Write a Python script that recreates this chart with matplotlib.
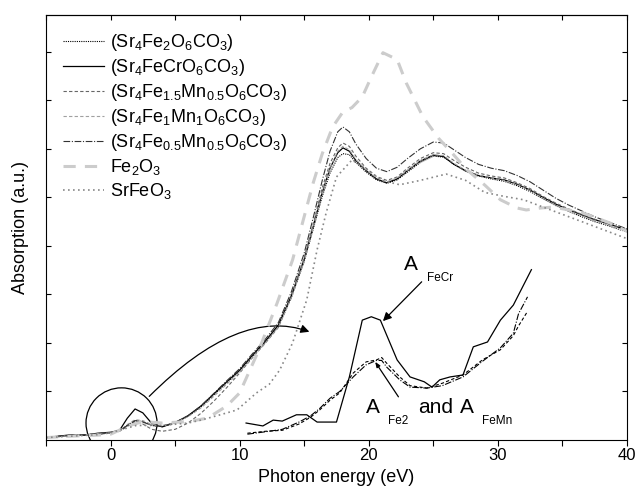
import matplotlib
matplotlib.use("Agg")
import matplotlib.pyplot as plt
from matplotlib.patches import Ellipse, FancyArrowPatch

plt.rcParams['font.family'] = ['Liberation Sans', 'DejaVu Sans']
plt.rcParams['mathtext.fontset'] = 'custom'
plt.rcParams['mathtext.rm'] = 'Liberation Sans'
plt.rcParams['mathtext.it'] = 'Liberation Sans'

# energy grid shared by the Sr4 carbonate spectra (eV)
x_main = [-5, -4, -3, -2, -1, 0, 0.7, 1.3, 1.9, 2.5, 3.2, 4, 5, 6, 7, 8, 9, 10, 11, 12,
          13, 14, 15, 15.7, 16.4, 17, 17.6, 18, 18.5, 19, 19.8, 20.6, 21.4, 22.2, 23, 24,
          25, 25.8, 26.6, 27.5, 28.5, 29.5, 30.5, 31.5, 32.5, 33.5, 34.5, 35.5, 36.5, 37.5,
          38.5, 39.5, 40]

fe2 = [0.05, 0.07, 0.1, 0.1, 0.13, 0.15, 0.19, 0.3, 0.4, 0.38, 0.3, 0.28, 0.35, 0.49, 0.68,
       0.93, 1.18, 1.42, 1.72, 2.02, 2.35, 2.93, 3.68, 4.35, 5.02, 5.5, 5.82, 5.9, 5.88, 5.72,
       5.52, 5.36, 5.29, 5.36, 5.52, 5.72, 5.85, 5.83, 5.68, 5.54, 5.44, 5.38, 5.33, 5.24,
       5.12, 4.97, 4.83, 4.71, 4.6, 4.5, 4.42, 4.33, 4.29]
fecr = [0.05, 0.08, 0.11, 0.1, 0.14, 0.16, 0.2, 0.45, 0.64, 0.56, 0.34, 0.27, 0.36, 0.5, 0.7,
        0.95, 1.2, 1.44, 1.75, 2.04, 2.37, 2.97, 3.72, 4.4, 5.1, 5.6, 5.92, 6.02, 5.95, 5.76,
        5.55, 5.38, 5.3, 5.38, 5.55, 5.75, 5.87, 5.84, 5.68, 5.55, 5.45, 5.4, 5.36, 5.27,
        5.15, 5.0, 4.86, 4.74, 4.64, 4.54, 4.46, 4.37, 4.33]
fe15mn05 = [0.04, 0.07, 0.09, 0.1, 0.12, 0.14, 0.18, 0.28, 0.38, 0.33, 0.22, 0.18, 0.22, 0.35,
            0.55, 0.8, 1.08, 1.38, 1.7, 2.0, 2.32, 2.95, 3.75, 4.45, 5.2, 5.7, 6.02, 6.12, 6.05,
            5.85, 5.6, 5.43, 5.35, 5.42, 5.6, 5.8, 5.92, 5.9, 5.76, 5.62, 5.5, 5.44, 5.4, 5.3,
            5.18, 5.02, 4.88, 4.76, 4.65, 4.55, 4.46, 4.37, 4.32]
fe1mn1 = [0.05, 0.07, 0.1, 0.11, 0.13, 0.15, 0.19, 0.32, 0.42, 0.4, 0.32, 0.3, 0.36, 0.48, 0.66,
          0.9, 1.15, 1.4, 1.7, 2.0, 2.33, 2.92, 3.68, 4.38, 5.08, 5.6, 5.95, 6.05, 5.98, 5.78,
          5.56, 5.4, 5.32, 5.4, 5.56, 5.76, 5.88, 5.86, 5.7, 5.56, 5.46, 5.4, 5.35, 5.26, 5.14,
          4.98, 4.84, 4.72, 4.62, 4.52, 4.43, 4.35, 4.3]
fe05mn05 = [0.05, 0.08, 0.1, 0.11, 0.13, 0.15, 0.19, 0.3, 0.4, 0.37, 0.3, 0.28, 0.36, 0.5, 0.7,
            0.96, 1.22, 1.47, 1.78, 2.08, 2.42, 3.05, 3.85, 4.58, 5.35, 5.95, 6.35, 6.45, 6.35,
            6.1, 5.8, 5.6, 5.53, 5.62, 5.8, 6.0, 6.14, 6.12, 5.98, 5.82, 5.68, 5.6, 5.55, 5.45,
            5.32, 5.15, 4.98, 4.84, 4.72, 4.6, 4.5, 4.4, 4.35]

# reference oxides
x_fe2o3 = [-5, -3, -1, 0, 1.5, 2.5, 4, 6, 7.5, 9, 10, 11.5, 12.9, 14.1, 15.7, 16.4, 17.2, 18,
           18.7, 19.5, 20.2, 21.1, 22.2, 22.9, 24.2, 25.4, 26.5, 27.6, 29, 30.2, 31.5, 32.2,
           33.3, 34.3, 35.5, 36.6, 38.7, 40]
fe2o3 = [0.05, 0.08, 0.1, 0.12, 0.3, 0.38, 0.35, 0.38, 0.45, 0.7, 0.97, 1.86, 2.82, 3.71, 5.3,
         5.9, 6.45, 6.76, 6.85, 7.07, 7.48, 7.98, 7.84, 7.36, 6.66, 6.22, 5.9, 5.57, 5.25, 4.95,
         4.78, 4.74, 4.78, 4.8, 4.74, 4.68, 4.47, 4.3]
x_srfeo3 = [-5, -3, -1, 0, 2, 4, 6, 7, 8.5, 9.8, 11.3, 12.3, 13.1, 14.1, 15.2, 16.0, 16.7, 17.5,
            18.7, 20, 21, 22.4, 24, 26, 27.5, 29, 30.5, 32, 34, 36, 38, 40]
srfeo3 = [0.05, 0.08, 0.11, 0.15, 0.3, 0.3, 0.35, 0.41, 0.52, 0.62, 0.97, 1.15, 1.44, 2.0, 2.89,
          3.92, 4.68, 5.42, 5.77, 5.55, 5.35, 5.26, 5.35, 5.48, 5.35, 5.1, 5.02, 4.95, 4.75,
          4.55, 4.35, 4.15]

# magnified pre-edge region
x_zoom_cr = [10.5, 11.8, 12.6, 13.3, 14.4, 15.2, 16.0, 17.5, 18.5, 19.5, 20.2, 20.9, 22.2,
             23.2, 24.3, 24.9, 25.5, 26.3, 27.3, 28.1, 29.2, 30.2, 31.2, 32.6]
zoom_cr = [0.35, 0.29, 0.41, 0.39, 0.52, 0.52, 0.37, 0.37, 1.3, 2.47, 2.54, 2.47, 1.65, 1.3,
           1.2, 1.09, 1.24, 1.3, 1.34, 1.92, 2.02, 2.47, 2.78, 3.51]
x_zoom = [10.6, 12, 13.3, 14.6, 15.5, 16.2, 17.0, 17.75, 18.8, 19.8, 20.6, 21.0, 21.4, 22.4,
          23.2, 24.5, 25.7, 27.3, 28.8, 30.2, 31.2, 31.6, 32.3]
zoom_fe2 = [0.14, 0.18, 0.2, 0.33, 0.47, 0.62, 0.82, 0.97, 1.38, 1.61, 1.65, 1.7, 1.58, 1.3,
            1.12, 1.07, 1.17, 1.34, 1.65, 1.86, 2.15, 2.35, 2.65]
zoom_femn = [0.12, 0.17, 0.22, 0.37, 0.5, 0.65, 0.86, 1.0, 1.3, 1.55, 1.64, 1.64, 1.5, 1.24,
             1.09, 1.07, 1.12, 1.3, 1.62, 1.9, 2.2, 2.6, 2.95]

fig = plt.figure(figsize=(6.37, 4.99), dpi=100)
ax = fig.add_axes([0.0722, 0.1182, 0.912, 0.852])

ax.plot(x_main, fe2, color='black', lw=0.8, ls=(0, (1, 1)),
        label=r'(Sr$_4$Fe$_2$O$_6$CO$_3$)')
ax.plot(x_main, fecr, color='black', lw=0.9, ls='-',
        label=r'(Sr$_4$FeCrO$_6$CO$_3$)')
ax.plot(x_main, fe15mn05, color='#666666', lw=0.8, ls=(0, (3, 2)),
        label=r'(Sr$_4$Fe$_{1.5}$Mn$_{0.5}$O$_6$CO$_3$)')
ax.plot(x_main, fe1mn1, color='#a0a0a0', lw=0.8, ls=(0, (3, 2)),
        label=r'(Sr$_4$Fe$_1$Mn$_1$O$_6$CO$_3$)')
ax.plot(x_main, fe05mn05, color='#333333', lw=0.8, ls=(0, (6, 1.5, 1, 1.5)),
        label=r'(Sr$_4$Fe$_{0.5}$Mn$_{0.5}$O$_6$CO$_3$)')
ax.plot(x_fe2o3, fe2o3, color='#cccccc', lw=2.2, ls=(0, (4, 3)),
        label=r'Fe$_2$O$_3$')
ax.plot(x_srfeo3, srfeo3, color='#888888', lw=1.2, ls=(0, (1, 2)),
        label=r'SrFeO$_3$')

# enlarged pre-edge features
ax.plot(x_zoom_cr, zoom_cr, color='black', lw=0.9)
ax.plot(x_zoom, zoom_fe2, color='black', lw=0.8, ls=(0, (3, 2)))
ax.plot(x_zoom, zoom_femn, color='black', lw=0.8, ls=(0, (6, 1.5, 1, 1.5)))

ax.add_patch(Ellipse((0.85, 0.35), 5.5, 1.45, fill=False, ec='black', lw=0.9))
ax.add_patch(FancyArrowPatch((3.0, 0.9), (15.4, 2.23),
                             connectionstyle='angle3,angleA=45,angleB=-20',
                             arrowstyle='-|>,head_length=5,head_width=2.5',
                             mutation_scale=1, color='black', lw=0.9,
                             shrinkA=0, shrinkB=0))

ax.text(23.3, 3.61, 'A', fontsize=15, ha='center', va='center')
ax.text(24.5, 3.33, 'FeCr', fontsize=8.5, ha='left', va='center')
ax.annotate('', xy=(21.1, 2.45), xytext=(24.1, 3.26),
            arrowprops=dict(arrowstyle='-|>,head_length=5,head_width=2.5',
                            mutation_scale=1, color='black', lw=0.9,
                            shrinkA=0, shrinkB=0))
ax.text(20.3, 0.66, 'A', fontsize=15, ha='center', va='center')
ax.text(21.5, 0.4, 'Fe2', fontsize=8.5, ha='left', va='center')
ax.text(23.8, 0.66, 'and', fontsize=15, ha='left', va='center')
ax.text(27.6, 0.66, 'A', fontsize=15, ha='center', va='center')
ax.text(28.8, 0.4, 'FeMn', fontsize=8.5, ha='left', va='center')
ax.annotate('', xy=(20.5, 1.61), xytext=(22.3, 0.89),
            arrowprops=dict(arrowstyle='-|>,head_length=3,head_width=1.2',
                            mutation_scale=1, color='black', lw=0.9,
                            shrinkA=0, shrinkB=0))

ax.set_xlim(-5, 40)
ax.set_ylim(0, 8.76)
ax.set_xticks([-5, 0, 5, 10, 15, 20, 25, 30, 35, 40])
ax.set_xticklabels(['', '0', '', '10', '', '20', '', '30', '', '40'])
ax.set_yticks([1, 2, 3, 4, 5, 6, 7, 8])
ax.tick_params(axis='x', which='both', direction='out', length=4, width=0.8,
               labelsize=12, top=False, pad=2)
ax.tick_params(axis='y', which='both', direction='in', length=3.5, width=0.8,
               labelleft=False, right=True)
# top ticks point inward while bottom ones point out
ax2 = ax.secondary_xaxis('top')
ax2.set_xticks([-5, 0, 5, 10, 15, 20, 25, 30, 35, 40])
ax2.tick_params(direction='in', length=3.5, width=0.8, labeltop=False)
for s in ax.spines.values():
    s.set_linewidth(0.8)

ax.set_xlabel('Photon energy (eV)', fontsize=13, labelpad=4)
ax.set_ylabel('Absorption (a.u.)', fontsize=13, labelpad=12)

ax.legend(loc='upper left', bbox_to_anchor=(0.01, 0.985), frameon=False, fontsize=13,
          handlelength=2.3, handletextpad=0.35, labelspacing=0.22, borderaxespad=0.2)

fig.savefig('out.png', dpi=100)
